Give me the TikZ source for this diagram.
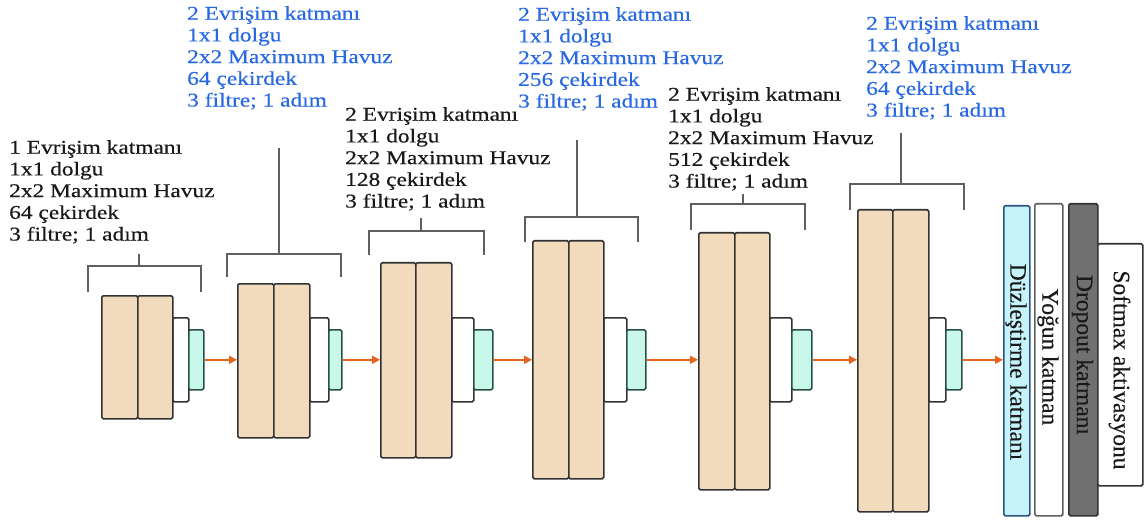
\documentclass[tikz,border=0pt]{standalone}
\usepackage{fontspec}
\setmainfont{Liberation Serif}[FakeStretch=1.2, FakeBold=0.4]
\newfontfamily\upfont{Liberation Serif}[FakeBold=0.3]
\usetikzlibrary{arrows.meta}

\definecolor{tanfill}{RGB}{242,219,188}
\definecolor{boxline}{RGB}{50,50,50}
\definecolor{mintfill}{RGB}{200,248,234}
\definecolor{mintline}{RGB}{40,80,70}
\definecolor{flatfill}{RGB}{198,243,250}
\definecolor{flatline}{RGB}{45,85,130}
\definecolor{dropfill}{RGB}{112,112,112}
\definecolor{brkgray}{RGB}{95,95,95}
\definecolor{flowor}{RGB}{232,100,30}
\definecolor{bluetxt}{RGB}{40,105,225}
\definecolor{darktxt}{RGB}{25,25,25}

% rectangle node from its top-left and bottom-right corner
\newcommand\boxat[6]{%
  \node[#2, anchor=north west, minimum width={#5-#3}, minimum height={#6-#4}]
    (#1) at (#3,#4) {};}

% one convolution block: name, left, divider, right, top, bottom, white right, mint right
\newcommand\convblock[8]{%
  \boxat{#1w}{wbox}{#4}{317}{#7}{401}
  \boxat{#1c}{mint}{#7}{329}{#8}{389}
  \boxat{#1a}{tan}{#2}{#5}{#3}{#6}
  \boxat{#1b}{tan}{#3}{#5}{#4}{#6}}

% bracket over a block: left, right, bar height, leg bottom, tick x, tick top
\newcommand\bracket[6]{%
  \draw[brk] (#1,#4) -- (#1,#3) -- (#2,#3) -- (#2,#4);
  \draw[brk] (#5,#3) -- (#5,#6);}

\begin{document}
\begin{tikzpicture}[x=1pt,y=-1pt,
  tan/.style={draw=boxline, fill=tanfill, line width=1.6pt, rounded corners=1.5pt, inner sep=0},
  wbox/.style={draw=boxline, fill=white, line width=1.6pt, rounded corners=1.5pt, inner sep=0},
  mint/.style={draw=mintline, fill=mintfill, line width=1.6pt, rounded corners=1.5pt, inner sep=0},
  brk/.style={draw=brkgray, line width=1.7pt},
  flow/.style={draw=flowor, line width=1.8pt, -{Triangle[length=8pt,width=8pt]}},
  lbl/.style={inner sep=0, anchor=north west, align=left,
    font=\fontsize{19.5}{21.7}\selectfont, text=darktxt},
  blbl/.style={lbl, text=bluetxt},
  vlbl/.style={inner sep=0, rotate=-90, font=\upfont\fontsize{23.5}{26}\selectfont, text=darktxt},
  tall/.style={line width=1.6pt, rounded corners=1.5pt, inner sep=0}]

\useasboundingbox (0,0) rectangle (1145,521);

% convolution blocks
\convblock{k1}{101}{137}{172}{295}{418}{188}{203}
\convblock{k2}{237}{273}{309}{283}{437}{328}{341}
\convblock{k3}{380}{415}{451}{262}{457}{473}{492}
\convblock{k4}{532}{568}{603}{240}{478}{626}{645}
\convblock{k5}{698}{734}{769}{232}{489}{791}{811}
\convblock{k6}{857}{892}{928}{209}{511}{945}{961}

% classifier layers
\boxat{flat}{tall, draw=flatline, fill=flatfill}{1003}{205}{1029}{515}
\boxat{dense}{tall, draw=brkgray, fill=white}{1034}{203}{1062}{515}
\boxat{drop}{tall, draw=boxline, fill=dropfill}{1068}{203}{1097}{515}
\boxat{soft}{tall, draw=boxline, fill=white}{1097}{243}{1142}{485}

\node[vlbl] (tflat) at (1016,362) {Düzleştirme katmanı};
\node[vlbl] (tdense) at (1048,357) {Yoğun katman};
\node[vlbl] (tdrop) at (1082.5,355) {Dropout katmanı};
\node[vlbl] (tsoft) at (1119.5,370) {Softmax aktivasyonu};

% brackets
\bracket{88}{201}{266}{292}{139}{254}
\bracket{227}{341}{254}{277}{279}{148}
\bracket{369}{484}{231}{255}{421}{218}
\bracket{525}{638}{217}{242}{577}{140}
\bracket{691}{805}{204}{230}{743}{194}
\bracket{850}{964}{184}{210}{901}{133}

% data flow
\draw[flow] (k1c.east) -- (k1c.east -| k2a.west);
\draw[flow] (k2c.east) -- (k2c.east -| k3a.west);
\draw[flow] (k3c.east) -- (k3c.east -| k4a.west);
\draw[flow] (k4c.east) -- (k4c.east -| k5a.west);
\draw[flow] (k5c.east) -- (k5c.east -| k6a.west);
\draw[flow] (k6c.east) -- (k6c.east -| flat.west);

% layer descriptions
\node[lbl] (d1) at (9,140) {1 Evrişim katmanı\\1x1 dolgu\\2x2 Maximum Havuz\\64 çekirdek\\3 filtre; 1 adım};
\node[blbl] (d2) at (187,6) {2 Evrişim katmanı\\1x1 dolgu\\2x2 Maximum Havuz\\64 çekirdek\\3 filtre; 1 adım};
\node[lbl] (d3) at (345,107) {2 Evrişim katmanı\\1x1 dolgu\\2x2 Maximum Havuz\\128 çekirdek\\3 filtre; 1 adım};
\node[blbl] (d4) at (518,7) {2 Evrişim katmanı\\1x1 dolgu\\2x2 Maximum Havuz\\256 çekirdek\\3 filtre; 1 adım};
\node[lbl] (d5) at (668,87) {2 Evrişim katmanı\\1x1 dolgu\\2x2 Maximum Havuz\\512 çekirdek\\3 filtre; 1 adım};
\node[blbl] (d6) at (866,16) {2 Evrişim katmanı\\1x1 dolgu\\2x2 Maximum Havuz\\64 çekirdek\\3 filtre; 1 adım};

\end{tikzpicture}
\end{document}
